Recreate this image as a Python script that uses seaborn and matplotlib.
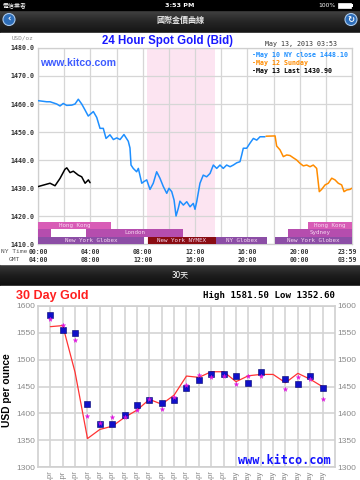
import numpy as np
import pandas as pd
import matplotlib
matplotlib.use("Agg")
import matplotlib.pyplot as plt
import matplotlib.transforms as mtransforms
from matplotlib.patches import Rectangle, Circle
from matplotlib.colors import LinearSegmentedColormap
import seaborn as sns

# ---------------- data : 24 hour spot gold ----------------
may10_hours = [0.00, 0.66, 0.92, 1.43, 1.68, 1.93, 2.19, 2.58, 2.83, 3.08, 3.34, 3.59, 3.84,
               4.23, 4.49, 4.74, 4.99, 5.20, 5.50, 5.76, 6.02, 6.27, 6.57, 6.90, 7.03, 7.11,
               7.28, 7.54, 7.67, 7.93, 8.10, 8.31, 8.56, 8.81, 9.07, 9.32, 9.58, 9.84, 10.01,
               10.22, 10.40, 10.55, 10.72, 10.85, 11.11, 11.37, 11.62, 11.87, 12.00, 12.13,
               12.38, 12.63, 12.89, 13.15, 13.40, 13.66, 13.91, 14.16, 14.42, 14.68, 14.93,
               15.19, 15.44, 15.57, 15.69, 15.95, 16.20, 16.46, 16.72, 16.97, 17.35]
may10_price = [1461.2, 1460.8, 1460.8, 1460.0, 1459.3, 1460.2, 1459.5, 1459.6, 1460.0, 1461.7,
               1460.0, 1457.9, 1455.7, 1457.3, 1455.2, 1451.3, 1451.3, 1447.7, 1449.0, 1447.3,
               1447.9, 1447.3, 1449.1, 1446.7, 1444.3, 1438.2, 1437.0, 1435.8, 1437.0, 1431.7,
               1432.3, 1432.9, 1429.5, 1431.7, 1435.8, 1433.5, 1430.5, 1428.1, 1429.9, 1428.7,
               1425.7, 1420.0, 1422.7, 1425.3, 1423.9, 1425.1, 1423.3, 1424.5, 1422.4, 1425.1,
               1431.7, 1434.6, 1434.0, 1435.2, 1438.2, 1437.0, 1438.2, 1437.0, 1438.2, 1437.6,
               1438.2, 1439.0, 1439.4, 1441.8, 1444.2, 1444.2, 1446.0, 1447.7, 1447.1, 1448.3,
               1448.3]
may12_hours = [17.43, 18.12, 18.24, 18.50, 18.75, 19.01, 19.26, 19.51, 19.77, 20.03, 20.28,
               20.54, 20.79, 21.04, 21.30, 21.50, 21.68, 21.94, 22.19, 22.45, 22.70, 22.95,
               23.21, 23.39, 23.60, 23.85, 23.98]
may12_price = [1448.5, 1448.6, 1445.0, 1443.6, 1441.2, 1441.8, 1441.6, 1440.8, 1440.0, 1438.8,
               1437.9, 1438.2, 1437.6, 1438.2, 1437.0, 1428.7, 1429.5, 1431.1, 1431.7, 1433.5,
               1432.9, 1431.7, 1431.1, 1428.7, 1429.3, 1429.5, 1429.9]
may13_hours = [0.00, 0.92, 1.30, 1.68, 2.06, 2.20, 2.45, 2.70, 3.08, 3.34, 3.60, 3.85, 3.98]
may13_price = [1430.5, 1431.7, 1430.8, 1433.4, 1436.7, 1437.2, 1435.5, 1436.0, 1434.6, 1434.0,
               1431.7, 1432.9, 1431.9]

series_names = ["May 10", "May 12", "May 13"]
series_colors = ["#1e8fff", "#ff8c00", "#000000"]
legend_texts = ["-May 10 NY close 1448.10", "-May 12 Sunday", "-May 13 Last 1430.90"]

y_ticks_24 = [1410, 1420, 1430, 1440, 1450, 1460, 1470, 1480]
ny_labels = ["00:00", "04:00", "08:00", "12:00", "16:00", "20:00", "23:59"]
gmt_labels = ["04:00", "08:00", "12:00", "16:00", "20:00", "00:00", "03:59"]
label_hours = [0, 4, 8, 12, 16, 20, 24]

session_labels = ["Hong Kong", "Hong Kong", "", "", "London", "Sydney",
                  "New York Globex", "New York NYMEX", "NY Globex", "New York Globex"]
session_rows = [0, 0, 1, 1, 1, 1, 2, 2, 2, 2]
session_start = [0.0, 20.6, 0.0, 1.0, 3.67, 19.1, 0.0, 8.4, 13.6, 18.1]
session_end = [5.58, 24.0, 1.0, 3.67, 11.08, 24.0, 8.1, 13.6, 17.5, 24.0]
session_kind = ["hk", "hk", "ldn", "gap", "ldn", "ldn", "glx", "nymex", "glx", "glx"]
comex_open, comex_close = 8 + 20 / 60, 13.5

# ---------------- data : 30 day gold ----------------
day_labels = ["10-Apr", "11-Apr", "12-Apr", "15-Apr", "16-Apr", "17-Apr", "18-Apr", "19-Apr",
              "22-Apr", "23-Apr", "24-Apr", "25-Apr", "26-Apr", "29-Apr", "30-Apr", "01-May",
              "02-May", "03-May", "06-May", "07-May", "08-May", "09-May", "10-May"]
close_price = [1561.5, 1563.5, 1476.0, 1353.0, 1370.0, 1376.0, 1392.5, 1406.0, 1426.0, 1417.0,
               1434.0, 1469.5, 1467.0, 1477.5, 1477.5, 1459.0, 1470.0, 1472.5, 1472.5, 1457.0,
               1474.5, 1463.5, 1449.5]
am_fix = [1583.0, 1555.3, 1549.0, 1416.8, 1379.5, 1379.5, 1397.0, 1415.0, 1424.8, 1418.7,
          1424.8, 1447.8, 1462.1, 1472.7, 1472.7, 1469.6, 1455.9, 1476.4, np.nan, 1463.4,
          1454.7, 1469.6, 1447.8]
pm_fix = [1575.0, 1564.6, 1536.6, 1395.0, 1381.4, 1392.6, 1393.8, 1406.0, 1426.0, 1408.0,
          1430.0, 1452.8, 1471.5, 1468.3, 1470.2, 1454.7, 1470.2, 1470.2, np.nan, 1444.9,
          1468.3, 1463.4, 1426.0]
y_ticks_30 = [1300, 1350, 1400, 1450, 1500, 1550, 1600]

# ---------------- figure ----------------
sns.set_theme(style="white")
plt.rcParams["font.family"] = ["DejaVu Sans", "Noto Sans CJK TC"]
MONO = "DejaVu Sans Mono"
CJK = ["Noto Sans CJK TC", "DejaVu Sans"]

fig = plt.figure(figsize=(3.6, 4.8), dpi=100)
fig.patch.set_facecolor("white")

bg = fig.add_axes([0, 0, 1, 1], zorder=0)
bg.axis("off")


def px_axes(l, t, r, b, z=2):
    return fig.add_axes([l / 360, 1 - b / 480, (r - l) / 360, (b - t) / 480], zorder=z)


# status bar and navigation bar
bg.add_patch(Rectangle((0, 0), 360, 10, color="black"))
nav_cmap = LinearSegmentedColormap.from_list("nav", ["#444444", "#262626", "#141414"])
bg.imshow(np.linspace(0, 1, 60).reshape(-1, 1), extent=(0, 360, 33, 10), cmap=nav_cmap,
          aspect="auto", origin="upper")
bg.add_patch(Rectangle((0, 33), 360, 231, color="white"))
bar_cmap = LinearSegmentedColormap.from_list("bar", ["#3c3c3c", "#1e1e1e", "#0e0e0e"])
bg.imshow(np.linspace(0, 1, 60).reshape(-1, 1), extent=(0, 360, 286, 264), cmap=bar_cmap,
          aspect="auto", origin="upper")
bg.add_patch(Rectangle((0, 286), 360, 194, color="white"))
bg.set_xlim(0, 360)
bg.set_ylim(480, 0)

bg.text(3, 5.3, "電信業者", color="white", fontsize=4.3, family=CJK, va="center", ha="left")
bg.text(180, 5.3, "3:53 PM", color="white", fontsize=4.6, weight="bold", va="center", ha="center")
bg.text(335, 5.3, "100%", color="white", fontsize=4.3, va="center", ha="right")
bg.add_patch(Rectangle((338, 3), 13, 5, fc="white", ec="white", lw=0.5))
bg.add_patch(Rectangle((351, 4.3), 1.5, 2.4, fc="white", ec="none"))
bg.text(180, 20, "國際金價曲線", color="#e8e8e8", fontsize=5.8, weight="bold", family=CJK,
        va="center", ha="center")
for cx, sym in [(9, "‹"), (351, "↻")]:
    bg.add_patch(Circle((cx, 19.5), 6, fc="#2d6db8", ec="#a8c8ec", lw=0.8))
    bg.text(cx, 19.3, sym, color="white", fontsize=6, weight="bold", va="center", ha="center")
bg.text(180, 275, "30天", color="white", fontsize=5.8, family=CJK, va="center", ha="center")

# ---------------- 24 hour chart ----------------
ax1 = px_axes(38, 48, 352, 244)
ax1.set_facecolor("white")
ax1.axvspan(comex_open, comex_close, color="#fce4f1", zorder=0, lw=0)

df24 = pd.DataFrame({
    "hour": may10_hours + may12_hours + may13_hours,
    "price": may10_price + may12_price + may13_price,
    "series": [series_names[0]] * len(may10_hours) + [series_names[1]] * len(may12_hours)
              + [series_names[2]] * len(may13_hours),
})
sns.lineplot(data=df24, x="hour", y="price", hue="series",
             palette=dict(zip(series_names, series_colors)), estimator=None, sort=False,
             lw=1.1, legend=False, ax=ax1, zorder=4)

ax1.set_xlim(0, 24)
ax1.set_ylim(1410, 1480)
ax1.set_xticks(label_hours)
ax1.set_xticks(list(range(2, 24, 4)), minor=True)
ax1.set_xticklabels([])
ax1.set_yticks(y_ticks_24)
ax1.set_yticklabels([f"{v:.1f}" for v in y_ticks_24], family=MONO, weight="bold",
                    fontsize=4.8, color="#333333")
ax1.tick_params(axis="both", which="both", length=0, pad=2.5)
ax1.grid(True, which="both", axis="x", color="#d6d6d6", lw=0.9, zorder=1)
ax1.grid(True, which="major", axis="y", color="#d6d6d6", lw=0.9, zorder=1)
ax1.set_axisbelow(True)
ax1.set_xlabel("")
ax1.set_ylabel("")
for s in ax1.spines.values():
    s.set_color("#cfcfcf")
    s.set_linewidth(0.9)

kind_colors = {"hk": "#d85cb6", "ldn": "#b54dae", "glx": "#8c4ea6", "nymex": "#8a0c12",
               "gap": "white"}
band_edges = [1417.9, 1415.35, 1412.55, 1410.0]
for lab, row, st, en, kind in zip(session_labels, session_rows, session_start, session_end,
                                  session_kind):
    top, bot = band_edges[row], band_edges[row + 1]
    ax1.barh(y=(top + bot) / 2, width=en - st, left=st, height=top - bot,
             color=kind_colors[kind], lw=0, zorder=5)
    if lab:
        ax1.text((st + en) / 2, (top + bot) / 2, lab, family=MONO, fontsize=4.2,
                 color="#f6d8f0", ha="center", va="center", zorder=6)

trans = mtransforms.blended_transform_factory(ax1.transData, bg.transData)
for i, (h, ny, gm) in enumerate(zip(label_hours, ny_labels, gmt_labels)):
    tr, ha = trans, "center"
    if i == len(label_hours) - 1:
        tr = mtransforms.offset_copy(trans, fig=fig, x=5, y=0, units="dots")
        ha = "right"
    ax1.text(h, 251.5, ny, transform=tr, family=MONO, weight="bold", fontsize=4.7,
             color="#333333", ha=ha, va="center", clip_on=False)
    ax1.text(h, 259.5, gm, transform=tr, family=MONO, weight="bold", fontsize=4.7,
             color="#333333", ha=ha, va="center", clip_on=False)
bg.text(14, 251.5, "NY Time", family=MONO, fontsize=4.5, color="#555555", ha="center", va="center")
bg.text(14, 259.5, "GMT", family=MONO, fontsize=4.5, color="#555555", ha="center", va="center")

bg.text(12, 37.5, "USD/oz", family=MONO, fontsize=4.3, color="#8a8a8a", ha="left", va="center")
bg.text(168, 41, "24 Hour Spot Gold (Bid)", family="Liberation Sans", weight="bold",
        fontsize=8.3, color="#1818ff", ha="center", va="center")
bg.text(301, 44, "May 13, 2013 03:53", family=MONO, fontsize=4.8, color="#333333",
        ha="center", va="center")
for k, (txt, col) in enumerate(zip(legend_texts, series_colors)):
    ax1.text(252, 54.5 + 8.3 * k, txt, transform=bg.transData, family=MONO, weight="bold",
             fontsize=4.8, color=col, ha="left", va="center", zorder=7)
ax1.text(40, 63.5, "www.kitco.com", transform=bg.transData, family="Liberation Sans",
         weight="bold", fontsize=7.6, color="#3d5bff", ha="left", va="center", zorder=7)

# ---------------- 30 day chart ----------------
ax2 = px_axes(38, 306, 335, 467)
ax2.set_facecolor("white")
slots = list(range(len(day_labels)))
df30 = pd.DataFrame({"slot": slots, "close": close_price, "am": am_fix, "pm": pm_fix})
sns.lineplot(data=df30, x="slot", y="close", color="#ff3333", lw=0.9, ax=ax2, zorder=3)
sns.scatterplot(data=df30, x="slot", y="am", marker="s", s=13, color="#1010c8",
                edgecolor="#00006e", linewidth=0.4, ax=ax2, zorder=4)
sns.scatterplot(data=df30, x="slot", y="pm", marker="*", s=12, color="#e010e0",
                edgecolor="#e010e0", linewidth=0.2, ax=ax2, zorder=5)
ax2.set_xlim(-1, len(day_labels))
ax2.set_ylim(1300, 1600)
ax2.set_xticks(slots)
ax2.set_xticklabels(day_labels, rotation=90, fontsize=5.5, color="#888888",
                    family="Liberation Sans", va="top")
ax2.set_yticks(y_ticks_30)
ax2.set_yticklabels([str(v) for v in y_ticks_30], fontsize=6, color="#8a8a8a",
                    family="Liberation Sans")
ax2.tick_params(axis="y", labelleft=True, labelright=True, length=0, pad=2)
ax2.tick_params(axis="x", length=0, pad=2.5)
ax2.grid(True, color="#d4d4d4", lw=1.2)
ax2.set_axisbelow(True)
ax2.set_xlabel("")
ax2.set_ylabel("")
for s in ax2.spines.values():
    s.set_color("#d0d0d0")
    s.set_linewidth(1.2)

bg.text(16, 296, "30 Day Gold", family="Liberation Sans", weight="bold", fontsize=9,
        color="#ff1f1f", ha="left", va="center")
bg.text(335, 295.5, "High 1581.50 Low 1352.60", family=MONO, weight="bold", fontsize=6.6,
        color="black", ha="right", va="center")
bg.text(7, 390, "USD per ounce", family="Liberation Sans", weight="bold", fontsize=7.4,
        color="black", rotation=90, ha="center", va="center")
ax2.text(331, 461, "www.kitco.com", transform=bg.transData, family=MONO, weight="bold",
         fontsize=8.6, color="#1414ff", ha="right", va="center", zorder=7)

fig.savefig("out.png", dpi=100, facecolor="white")
